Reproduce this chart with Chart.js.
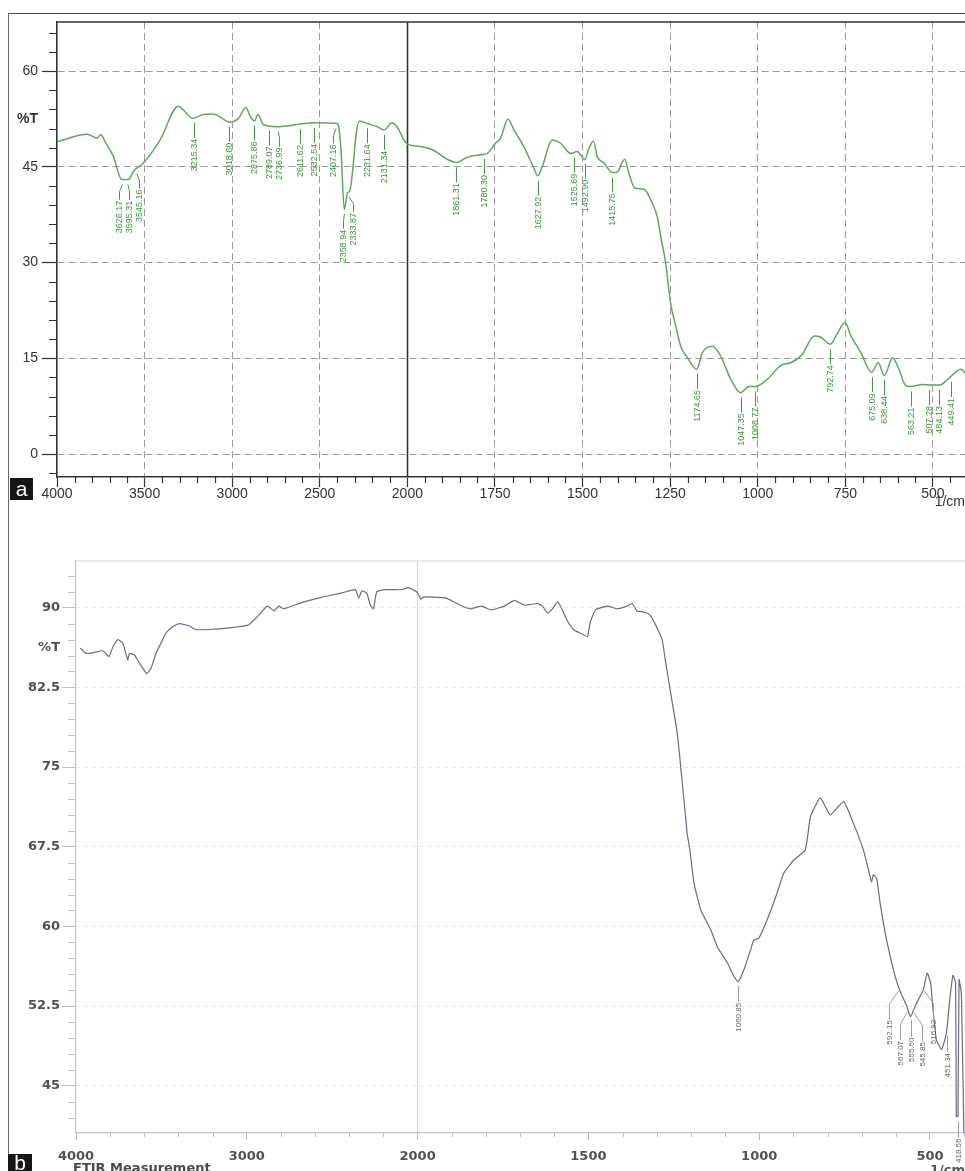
<!DOCTYPE html>
<html>
<head>
<meta charset="utf-8">
<title>FTIR spectra</title>
<script src="https://cdn.jsdelivr.net/npm/chart.js@4.4.1/dist/chart.umd.min.js"></script>
<style>
  html, body { margin: 0; padding: 0; background: #fff; }
  #wrap { position: relative; width: 965px; height: 1171px; overflow: hidden; background: #fff; }
  #frameTop { position: absolute; left: 8px; top: 13px; width: 960px; height: 0; border-top: 1.5px solid #4a4a4a; }
  #frameLeft { position: absolute; left: 8px; top: 13px; width: 0; height: 1160px; border-left: 1.5px solid #6a6a6a; }
  canvas { position: absolute; left: 0; }
  #cA { top: 0; }
  #cB { top: 520px; }
  .tag { position: absolute; background: #161616; color: #fff; font-family: "Liberation Sans", Arial, sans-serif; text-align: center; }
  #tagA { left: 10px; top: 478px; width: 23px; height: 22px; font-size: 21px; line-height: 21px; }
  #tagB { left: 8px; top: 1154px; width: 24px; height: 17px; font-size: 21px; line-height: 17px; }
  #unitA { position: absolute; right: 0; top: 493px; font: 14px "Liberation Sans", Arial, sans-serif; color: #333; }
  #unitB { position: absolute; right: 0; top: 1162px; font: bold 13px "DejaVu Sans", sans-serif; color: #555; }
  #ftir { position: absolute; left: 73px; top: 1160px; font: bold 13px "DejaVu Sans", sans-serif; color: #4a4a4a; }
</style>
</head>
<body>
<div id="wrap">
  <div id="frameTop"></div>
  <div id="frameLeft"></div>
  <canvas id="cA" width="965" height="520"></canvas>
  <canvas id="cB" width="965" height="651"></canvas>
  <div class="tag" id="tagA">a</div>
  <div id="unitA">1/cm</div>
  <div class="tag" id="tagB">b</div>
  <div id="ftir">FTIR Measurement</div>
  <div id="unitB">1/cm</div>
</div>
<script>
// ---------- data ----------
const topWavenumbers = [4000,3826,3773,3749,3726,3678,3630,3592,3564,3507,3412,3307,3278,3225,3164,3107,3068,3015,2964,2922,2897,2873,2853,2821,2745,2611,2536,2402,2392,2379,2360,2341,2330,2310,2292,2273,2230,2173,2132,2088,2060,2002,1963,1925,1887,1860,1829,1791,1772,1749,1734,1713,1696,1668,1639,1628,1615,1587,1563,1534,1515,1506,1494,1482,1469,1458,1439,1415,1401,1380,1368,1351,1325,1301,1287,1275,1263,1249,1234,1220,1201,1174,1158,1130,1106,1077,1049,1025,1006,973,934,906,873,839,820,793,772,751,734,706,675,656,639,615,601,577,563,530,506,482,458,420,406];
const topTransmittance = [48.95,50.1,49.5,50.05,48.95,46.6,43.0,43.0,44.3,45.6,49.2,54.5,53.9,52.6,53.2,53.3,52.8,52.0,52.6,54.3,52.9,52.2,53.2,51.6,51.3,51.7,51.9,51.8,51.3,47.7,38.3,41.0,41.1,45.05,50.3,52.2,51.8,51.3,50.8,51.9,51.3,48.6,48.2,47.6,46.2,45.7,46.5,46.9,47.1,48.7,49.5,52.5,50.8,48.2,44.8,43.6,45.05,49.2,48.7,47.1,47.4,46.9,46.1,47.9,49.0,46.6,45.6,44.1,44.2,46.2,44.0,41.7,41.5,39.3,37.2,33.5,30.0,23.7,20.05,16.9,15.1,13.3,15.9,16.9,15.4,11.7,9.6,10.6,10.6,11.7,13.9,14.3,15.6,18.5,18.3,17.2,19.0,20.6,18.5,15.9,12.8,14.3,12.3,15.1,13.8,10.7,10.6,10.9,10.8,10.8,11.7,13.3,12.5];
const topPeaks = [3626.17,3595.31,3545.16,3215.34,3018.60,2875.86,2789.07,2736.99,2611.62,2532.54,2407.16,2358.94,2333.87,2231.64,2131.34,1861.31,1780.30,1627.92,1525.69,1492.90,1415.75,1174.65,1047.35,1008.77,792.74,675.09,638.44,563.21,507.28,484.13,449.41];
const topXTicks = [4000,3500,3000,2500,2000,1750,1500,1250,1000,750,500];
const topYTicks = [0,15,30,45,60];

const bottomWavenumbers = [3975,3940,3891,3842,3807,3784,3755,3726,3697,3687,3658,3629,3586,3561,3532,3503,3474,3435,3396,3338,3299,3221,3104,2988,2930,2880,2841,2812,2783,2675,2559,2442,2364,2345,2326,2297,2277,2258,2239,2190,2093,2054,2006,1990,1983,1950,1916,1891,1857,1843,1814,1785,1746,1717,1688,1649,1634,1620,1605,1589,1562,1542,1523,1503,1494,1479,1445,1416,1387,1372,1358,1338,1319,1299,1284,1275,1259,1240,1225,1211,1203,1191,1171,1142,1123,1093,1074,1062,1045,1025,1016,1001,977,948,928,899,865,850,821,792,753,724,695,680,671,666,656,646,627,602,585,568,557,539,520,508,498,491,481,466,452,442,433,425,423,418,415,408,400];
const bottomTransmittance = [86.2,85.7,85.8,85.95,85.4,86.3,87.0,86.65,85.1,85.7,85.55,84.8,83.8,84.3,85.7,86.65,87.6,88.2,88.5,88.3,87.95,87.95,88.1,88.4,89.3,90.15,89.7,90.15,89.9,90.5,91.0,91.4,91.7,90.9,91.6,91.35,90.25,89.9,91.5,91.7,91.7,91.9,91.5,90.8,91.0,91.0,90.9,90.5,90.0,89.9,90.15,89.8,90.15,90.7,90.25,90.4,90.15,89.5,89.9,90.55,88.8,87.9,87.6,87.3,88.7,89.8,90.15,89.9,90.15,90.4,89.7,89.6,89.3,88.1,87.0,85.1,81.95,78.2,73.5,68.8,67.2,64.1,61.55,59.7,58.1,56.55,55.3,54.8,55.9,57.8,58.7,58.9,60.6,63.1,65.0,66.25,67.2,70.3,72.1,70.5,71.75,69.7,67.2,65.3,64.2,64.85,64.5,62.2,58.7,55.3,53.7,52.5,51.5,52.8,54.0,55.6,54.65,52.15,49.3,48.4,49.95,53.1,55.4,54.65,42.1,42.1,55.0,53.6,39];
const bottomPeaks = [1060.85,592.15,567.07,555.50,545.85,516.92,451.34,418.56];
const bottomXTicks = [4000,3000,2000,1500,1000,500];
const bottomYTicks = [45,52.5,60,67.5,75,82.5,90];

const yTitle = '%T';
const topYTitleAt = 52.5;
const bottomYTitleAt = 86.25;

// ---------- helpers ----------
// the x axis is compressed 2:1 above 2000 1/cm (as on the instrument plot)
const comp = w => w > 2000 ? 2000 + (w - 2000) / 2 : w;
const decomp = u => u > 2000 ? 2000 + (u - 2000) * 2 : u;

function interp(wn, t, w) {
  for (let i = 0; i < wn.length - 1; i++) {
    if (wn[i] >= w && w >= wn[i + 1]) {
      const f = (wn[i] - w) / (wn[i] - wn[i + 1]);
      return t[i] + f * (t[i + 1] - t[i]);
    }
  }
  return t[t.length - 1];
}
function spread(xs, gap) {
  const p = xs.slice();
  for (let it = 0; it < 80; it++) {
    let moved = false;
    for (let i = 1; i < p.length; i++) {
      const d = p[i] - p[i - 1];
      if (d < gap - 0.01) { const s = (gap - d) / 2; p[i - 1] -= s; p[i] += s; moved = true; }
    }
    if (!moved) break;
  }
  return p;
}

function makeDecor(cfg) {
  return {
    id: 'decor_' + cfg.name,
    beforeDatasetsDraw(chart) {
      const { ctx, chartArea: a, scales: { x, y } } = chart;
      ctx.save();
      ctx.strokeStyle = cfg.minorColor; ctx.lineWidth = cfg.minorWidth;
      ctx.beginPath();
      const majX = cfg.xMajors.map(comp);
      const i0 = Math.ceil(x.min / cfg.xMinorStep), i1 = Math.floor(x.max / cfg.xMinorStep);
      for (let i = i0; i <= i1; i++) {
        const u = i * cfg.xMinorStep;
        if (majX.some(m => Math.abs(m - u) < 1e-6)) continue;
        const px = Math.round(x.getPixelForValue(u)) + 0.5;
        ctx.moveTo(px, a.bottom); ctx.lineTo(px, a.bottom + cfg.xMinorLen);
      }
      const j0 = Math.ceil(y.min / cfg.yMinorStep), j1 = Math.floor(y.max / cfg.yMinorStep);
      for (let j = j0; j <= j1; j++) {
        const v = j * cfg.yMinorStep;
        if (cfg.yMajors.some(m => Math.abs(m - v) < 1e-6)) continue;
        const py = Math.round(y.getPixelForValue(v)) + 0.5;
        ctx.moveTo(a.left - cfg.yMinorLen, py); ctx.lineTo(a.left, py);
      }
      ctx.stroke();
      // top frame of plot box
      ctx.strokeStyle = cfg.frameColor; ctx.lineWidth = cfg.frameWidth;
      ctx.beginPath(); ctx.moveTo(a.left, a.top); ctx.lineTo(a.right, a.top); ctx.stroke();
      // solid divider
      cfg.solidX.forEach(w => {
        const px = Math.round(x.getPixelForValue(comp(w))) + 0.5;
        ctx.strokeStyle = cfg.solidColor; ctx.lineWidth = cfg.solidWidth;
        ctx.beginPath(); ctx.moveTo(px, a.top); ctx.lineTo(px, a.bottom); ctx.stroke();
      });
      ctx.restore();
    }
  };
}

function makePeaks(cfg) {
  return {
    id: 'peaks_' + cfg.name,
    afterDatasetsDraw(chart) {
      const { ctx, scales: { x, y } } = chart;
      const pts = cfg.peaks.map(w => ({
        w, px: x.getPixelForValue(comp(w)),
        py: y.getPixelForValue(interp(cfg.wn, cfg.t, w))
      })).sort((a, b) => a.px - b.px);
      const xs = spread(pts.map(p => p.px), cfg.gap);
      ctx.save();
      ctx.strokeStyle = cfg.color; ctx.fillStyle = cfg.textColor; ctx.lineWidth = 1;
      ctx.font = cfg.font;
      pts.forEach((p, i) => {
        const xl = Math.round(xs[i]) + 0.5;
        const moved = Math.abs(xl - p.px) >= 1;
        const len = cfg.len + (moved ? cfg.spreadExtra : 0);
        const y1 = p.py + cfg.offset, y3 = p.py + cfg.offset + len;
        ctx.beginPath();
        if (!moved) { ctx.moveTo(xl, y1); ctx.lineTo(xl, y3); }
        else { ctx.moveTo(p.px, y1); ctx.lineTo(xl, y1 + len * 0.45); ctx.lineTo(xl, y3); }
        ctx.stroke();
        ctx.save();
        ctx.translate(xl, y3 + 1);
        ctx.rotate(-Math.PI / 2);
        ctx.textAlign = 'right'; ctx.textBaseline = 'middle';
        ctx.fillText(p.w.toFixed(2), 0, 0);
        ctx.restore();
      });
      ctx.restore();
    }
  };
}

const fontA = '"Liberation Sans", Arial, sans-serif';
const fontB = '"DejaVu Sans", sans-serif';

// ---------- chart a ----------
const topY = topYTicks.concat([topYTitleAt]).sort((a, b) => a - b);
new Chart(document.getElementById('cA'), {
  type: 'line',
  data: {
    datasets: [{
      data: topWavenumbers.map((w, i) => ({ x: comp(w), y: topTransmittance[i] })),
      borderColor: '#5ea85e', borderWidth: 1.5, pointRadius: 0,
      cubicInterpolationMode: 'monotone', fill: false
    }]
  },
  options: {
    responsive: false, animation: false, devicePixelRatio: 1,
    layout: { padding: { top: 22, left: 0, right: 0, bottom: 0 } },
    plugins: { legend: { display: false }, tooltip: { enabled: false } },
    scales: {
      x: {
        type: 'linear', reverse: true, min: comp(408.6), max: comp(4000),
        afterBuildTicks: s => { s.ticks = topXTicks.map(w => ({ value: comp(w) })); },
        afterFit: s => { s.height = 43; },
        grid: {
          color: c => (c.tick && (Math.abs(c.tick.value - comp(4000)) < 1e-6 || c.tick.value === 2000)) ? 'rgba(0,0,0,0)' : '#9c9c9c',
          lineWidth: 1, tickLength: 10, tickColor: '#333', tickWidth: 1.2, tickBorderDash: []
        },
        border: { display: true, color: '#333', width: 1.6, dash: [7, 4] },
        ticks: {
          autoSkip: false, maxRotation: 0, padding: -1, color: '#333',
          font: { family: fontA, size: 14 },
          callback: v => String(Math.round(decomp(v)))
        }
      },
      y: {
        type: 'linear', min: -3.6, max: 67.7,
        afterBuildTicks: s => { s.ticks = topY.map(v => ({ value: v })); },
        afterFit: s => { s.width = 57; },
        grid: {
          color: c => (c.tick && c.tick.value === topYTitleAt) ? 'rgba(0,0,0,0)' : '#9c9c9c',
          tickColor: c => (c.tick && c.tick.value === topYTitleAt) ? 'rgba(0,0,0,0)' : '#333',
          lineWidth: 1, tickLength: 15, tickWidth: 1.2, tickBorderDash: []
        },
        border: { display: true, color: '#333', width: 1.6, dash: [7, 4] },
        ticks: {
          autoSkip: false, padding: 4, color: '#333',
          font: c => ({ family: fontA, size: 14, weight: (c.tick && c.tick.value === topYTitleAt) ? 'bold' : 'normal' }),
          callback: v => v === topYTitleAt ? yTitle : String(v)
        }
      }
    }
  },
  plugins: [
    makeDecor({ name: 'a', xMajors: topXTicks, yMajors: topY, xMinorStep: 50, yMinorStep: 3, xMinorLen: 6, yMinorLen: 8,
      minorColor: '#333', minorWidth: 1.2, frameColor: '#333', frameWidth: 1.6, solidX: [2000], solidColor: '#333', solidWidth: 1.6 }),
    makePeaks({ name: 'a', peaks: topPeaks, wn: topWavenumbers, t: topTransmittance, gap: 10, offset: 5, len: 15, spreadExtra: 0,
      color: '#3f9a3f', textColor: '#3a963a', font: '9px ' + fontA })
  ]
});

// ---------- chart b ----------
const botY = bottomYTicks.concat([bottomYTitleAt]).sort((a, b) => a - b);
new Chart(document.getElementById('cB'), {
  type: 'line',
  data: {
    datasets: [{
      data: bottomWavenumbers.map((w, i) => ({ x: comp(w), y: bottomTransmittance[i] })),
      borderColor: '#6b6b80', borderWidth: 1.2, pointRadius: 0,
      tension: 0.15, fill: false
    }]
  },
  options: {
    responsive: false, animation: false, devicePixelRatio: 1,
    layout: { padding: { top: 41, left: 0, right: 0, bottom: 0 } },
    plugins: { legend: { display: false }, tooltip: { enabled: false } },
    scales: {
      x: {
        type: 'linear', reverse: true, min: 397.5, max: comp(4000),
        afterBuildTicks: s => { s.ticks = bottomXTicks.map(w => ({ value: comp(w) })); },
        afterFit: s => { s.height = 38; },
        grid: {
          color: c => (c.tick && c.tick.value === 2000) ? '#d4d4e4' : 'rgba(0,0,0,0)',
          lineWidth: 1, tickLength: 7, tickColor: '#b8b8c8', tickWidth: 1, tickBorderDash: []
        },
        border: { display: true, color: '#c4c4d0', width: 1.2 },
        ticks: {
          autoSkip: false, maxRotation: 0, padding: 9, color: '#505050',
          font: { family: fontB, size: 13, weight: 'bold' },
          callback: v => String(Math.round(decomp(v)))
        }
      },
      y: {
        type: 'linear', min: 40.55, max: 94.4,
        afterBuildTicks: s => { s.ticks = botY.map(v => ({ value: v })); },
        afterFit: s => { s.width = 76; },
        grid: {
          color: c => (c.tick && c.tick.value === bottomYTitleAt) ? 'rgba(0,0,0,0)' : 'rgba(190,190,210,0.35)',
          tickColor: c => (c.tick && c.tick.value === bottomYTitleAt) ? 'rgba(0,0,0,0)' : '#c0c0d0',
          lineWidth: 1, tickLength: 14, tickWidth: 1, tickBorderDash: []
        },
        border: { display: true, color: '#c4c4d4', width: 1.2, dash: [4, 4] },
        ticks: {
          autoSkip: false, padding: 2, color: '#505050',
          font: { family: fontB, size: 13, weight: 'bold' },
          callback: v => v === bottomYTitleAt ? yTitle : String(v)
        }
      }
    }
  },
  plugins: [
    makeDecor({ name: 'b', xMajors: bottomXTicks, yMajors: botY, xMinorStep: 100, yMinorStep: 1.5, xMinorLen: 4, yMinorLen: 8,
      minorColor: '#c0c0d0', minorWidth: 1, frameColor: '#d0d0e0', frameWidth: 1.2, solidX: [], solidColor: '#ccc', solidWidth: 1 }),
    makePeaks({ name: 'b', peaks: bottomPeaks, wn: bottomWavenumbers, t: bottomTransmittance, gap: 11, offset: 5, len: 16, spreadExtra: 12,
      color: '#9a9aa8', textColor: '#666', font: '8px ' + fontA })
  ]
});
</script>
</body>
</html>
